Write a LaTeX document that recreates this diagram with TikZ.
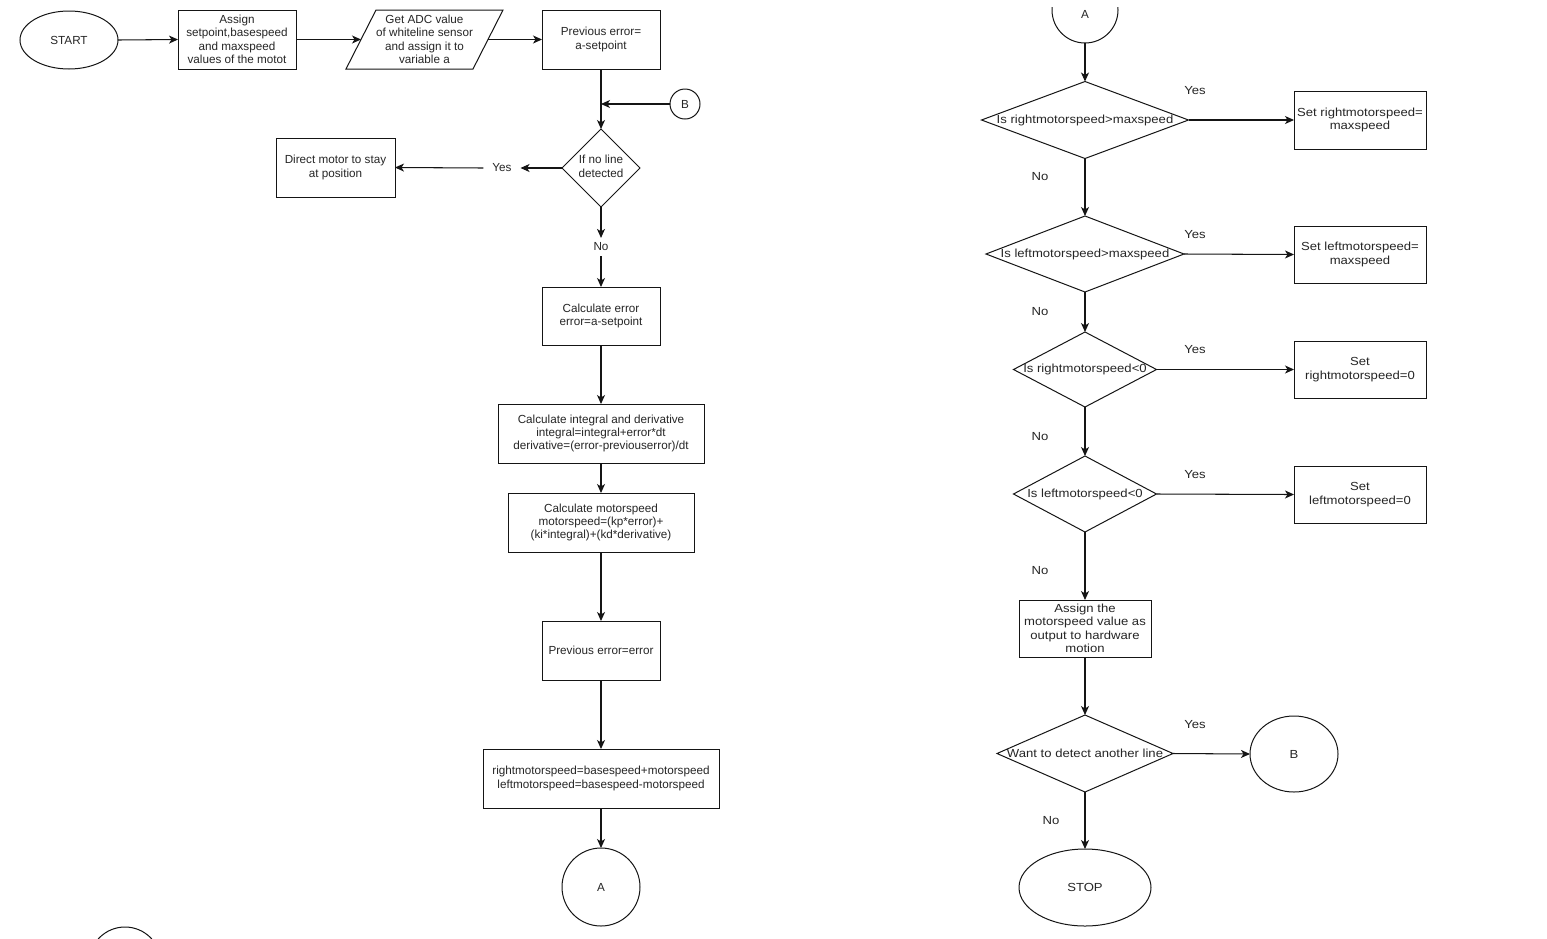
\documentclass[tikz,border=0pt]{standalone}
\usepackage{fontspec}
\setmainfont{Liberation Sans}
\newfontfamily\lfont{Liberation Sans}
\newfontfamily\rfont[FakeStretch=1.12]{Liberation Sans}
\usetikzlibrary{shapes.geometric,arrows.meta}
\definecolor{txt}{HTML}{262626}
\definecolor{lncol}{HTML}{151515}
\begin{document}
\begin{tikzpicture}[x=1pt,y=-1pt,
  every node/.style={align=center,text=txt,inner sep=0pt,outer sep=0pt},
  shp/.style={draw=lncol,line width=1pt,fill=white},
  lf/.style={font=\lfont\fontsize{11.7}{13.4}\selectfont},
  rf/.style={font=\rfont\fontsize{11.7}{13.4}\selectfont},
  box/.style={shp,rectangle},
  dia/.style={shp,diamond},
  ell/.style={shp,ellipse},
  circ/.style={shp,circle},
  lbl/.style={inner xsep=9pt,inner ysep=5pt},
  arr/.style={draw=lncol,line width=1.05pt,-{Stealth[length=9pt,width=8pt,inset=2.5pt]}}
]
\useasboundingbox (0,0) rectangle (1547,938);
\fill[white] (0,0) rectangle (1547,938);
\clip (0,0) rectangle (1547,938);

% ---------------- left column ----------------
\node[ell,lf,minimum width=98,minimum height=58] (start) at (69,40) {START};
\node[box,lf,minimum width=118,minimum height=59] (assign) at (237,39.5)
  {Assign\\setpoint,basespeed\\and maxspeed\\values of the motot};
\node[lf,minimum width=127,minimum height=59] (para) at (424.5,39.5)
  {Get ADC value\\of whiteline sensor\\and assign it to\\variable a};
\draw[draw=lncol,line width=1pt] ([xshift=-15pt]para.south west) -- ([xshift=15pt]para.north west)
  -- ([xshift=15pt]para.north east) -- ([xshift=-15pt]para.south east) -- cycle;
\node[box,lf,minimum width=118,minimum height=59] (prev) at (601,39.5) {Previous error=\\a-setpoint};
\node[circ,lf,minimum size=30] (bc) at (685,104) {B};
\node[dia,lf,minimum width=78,minimum height=78] (q0) at (601,168)
  {\makebox[0pt]{\begin{tabular}{@{}c@{}}If no line\\detected\end{tabular}}};
\node[box,lf,minimum width=119,minimum height=59] (direct) at (335.5,167.5) {Direct motor to stay\\at position};
\node[lbl,lf] (y0) at (502,168) {Yes};
\node[lbl,lf] (n0) at (601,247) {No};
\node[box,lf,minimum width=118,minimum height=58] (calcerr) at (601,316) {Calculate error\\error=a-setpoint};
\node[box,lf,minimum width=206,minimum height=59] (integ) at (601,433.5)
  {Calculate integral and derivative\\integral=integral+error*dt\\derivative=(error-previouserror)/dt};
\node[box,lf,minimum width=186,minimum height=59] (mspeed) at (601,522.5)
  {Calculate motorspeed\\motorspeed=(kp*error)+\\(ki*integral)+(kd*derivative)};
\node[box,lf,minimum width=118,minimum height=59] (preverr) at (601,650.5) {Previous error=error};
\node[box,lf,minimum width=236,minimum height=59] (rl) at (601,778.5)
  {rightmotorspeed=basespeed+motorspeed\\leftmotorspeed=basespeed-motorspeed};
\node[circ,lf,minimum size=78] (abot) at (601,887) {A};
\node[circ,minimum size=72] (cpart) at (125,963) {};

\draw[arr] (start.east) -- (assign.west);
\draw[arr] (assign.east) -- (para.west);
\draw[arr] (para.east) -- (prev.west);
\draw[arr] (prev.south) -- (q0.north);
\draw[arr] (bc.west) -- (bc.west -| prev.south);
\draw[arr] (q0.west) -- (y0.east);
\draw[arr] (y0.west) -- (direct.east);
\draw[arr] (q0.south) -- (n0.north);
\draw[arr] (n0.south) -- (calcerr.north);
\draw[arr] (calcerr.south) -- (integ.north);
\draw[arr] (integ.south) -- (mspeed.north);
\draw[arr] (mspeed.south) -- (preverr.north);
\draw[arr] (preverr.south) -- (rl.north);
\draw[arr] (rl.south) -- (abot.north);

% ---------------- right column ----------------
\begin{scope}
\clip (1040,7) rectangle (1130,60);
\node[circ,lf,minimum size=66] (atop) at (1085,10) {\smash{\raisebox{-8.5pt}{A}}};
\end{scope}
\node[dia,rf,minimum width=207,minimum height=77] (d1) at (1085,120) {\makebox[0pt]{Is rightmotorspeed>maxspeed}};
\node[box,rf,minimum width=132,minimum height=58] (s1) at (1360,120) {Set rightmotorspeed=\\maxspeed};
\node[dia,rf,minimum width=198,minimum height=76] (d2) at (1085,254) {\makebox[0pt]{Is leftmotorspeed>maxspeed}};
\node[box,rf,minimum width=132,minimum height=57] (s2) at (1360,254.5) {Set leftmotorspeed=\\maxspeed};
\node[dia,rf,minimum width=143,minimum height=75] (d3) at (1085,369.5) {\makebox[0pt]{Is rightmotorspeed<0}};
\node[box,rf,minimum width=132,minimum height=57] (s3) at (1360,369.5) {Set\\rightmotorspeed=0};
\node[dia,rf,minimum width=143,minimum height=76] (d4) at (1085,494) {\makebox[0pt]{Is leftmotorspeed<0}};
\node[box,rf,minimum width=132,minimum height=57] (s4) at (1360,494.5) {Set\\leftmotorspeed=0};
\node[box,rf,minimum width=132,minimum height=57] (asg) at (1085,628.5)
  {Assign the\\motorspeed value as\\output to hardware\\motion};
\node[dia,rf,minimum width=176,minimum height=77] (d5) at (1085,753.5) {\makebox[0pt]{Want to detect another line}};
\node[ell,rf,minimum width=88,minimum height=76] (bell) at (1294,754) {B};
\node[ell,rf,minimum width=132,minimum height=77] (stop) at (1085,887.5) {STOP};

\node[rf] (y1) at (1195,91) {Yes};
\node[rf] (y2) at (1195,235) {Yes};
\node[rf] (y3) at (1195,350) {Yes};
\node[rf] (y4) at (1195,475) {Yes};
\node[rf] (y5) at (1195,725) {Yes};
\node[rf] (n1) at (1040,177) {No};
\node[rf] (n2) at (1040,312) {No};
\node[rf] (n3) at (1040,437) {No};
\node[rf] (n4) at (1040,571) {No};
\node[rf] (n5) at (1051,821) {No};

\draw[arr] (atop.south) -- (d1.north);
\draw[arr] (d1.east) -- (s1.west);
\draw[arr] (d1.south) -- (d2.north);
\draw[arr] (d2.east) -- (s2.west);
\draw[arr] (d2.south) -- (d3.north);
\draw[arr] (d3.east) -- (s3.west);
\draw[arr] (d3.south) -- (d4.north);
\draw[arr] (d4.east) -- (s4.west);
\draw[arr] (d4.south) -- (asg.north);
\draw[arr] (asg.south) -- (d5.north);
\draw[arr] (d5.east) -- (bell.west);
\draw[arr] (d5.south) -- (stop.north);
\end{tikzpicture}
\end{document}
